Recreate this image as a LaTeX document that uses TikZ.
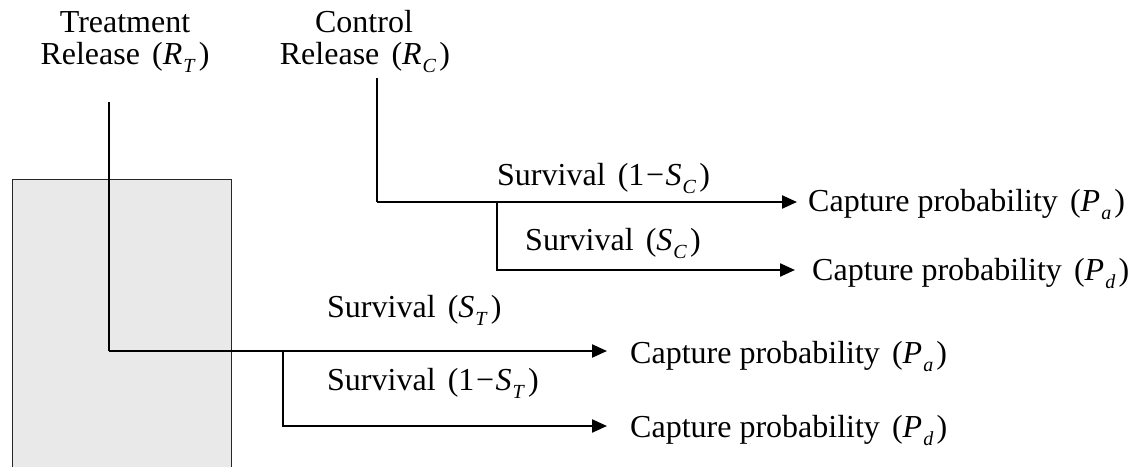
\documentclass[tikz,border=0pt]{standalone}
\usepackage{fontspec}
\setmainfont{Liberation Serif}
\usetikzlibrary{arrows.meta}
\newcommand{\subv}[2]{\textit{#1}\kern0.03em\raisebox{-0.28em}{\fontsize{20}{20}\selectfont\textit{#2}}\kern0.1em}
\newcommand{\gapsp}{\hspace{0.38em}}
\begin{document}
\begin{tikzpicture}[x=1pt,y=-1pt,
  lbl/.style={anchor=base west,inner sep=0pt,font=\fontsize{32}{38}\selectfont},
  head/.style={lbl,anchor=base},
  conn/.style={line width=2.3pt},
  arr/.style={conn,-{Triangle[length=15pt,width=13pt]}},
  pane/.style={draw=black!85,line width=1.4pt,fill=gray!17}]
\useasboundingbox (0,0) rectangle (1129,466);
% shaded panel
\node[pane,minimum width=219pt,minimum height=290pt,inner sep=0pt,anchor=north west] (panel) at (12,179) {};
% headers
\node[head] (trt) at (125,32) {Treatment};
\node[head] (relT) at (125,64) {Release\gapsp(\subv{R}{T})};
\node[head] (ctl) at (364,32) {Control};
\node[head] (relC) at (365,64) {Release\gapsp(\subv{R}{C})};
% labels
\node[lbl] (sC1) at (497,185) {Survival\gapsp(1\kern0.05em−\kern0.05em\subv{S}{C})};
\node[lbl] (sC2) at (525,250) {Survival\gapsp(\subv{S}{C})};
\node[lbl] (sT1) at (327,317) {Survival\gapsp(\subv{S}{T})};
\node[lbl] (sT2) at (327,390) {Survival\gapsp(1\kern0.05em−\kern0.05em\subv{S}{T})};
\node[lbl] (capCa) at (808,211) {Capture probability\gapsp(\subv{P}{a})};
\node[lbl] (capCd) at (812,280) {Capture probability\gapsp(\subv{P}{d})};
\node[lbl] (capTa) at (630,363) {Capture probability\gapsp(\subv{P}{a})};
\node[lbl] (capTd) at (630,437) {Capture probability\gapsp(\subv{P}{d})};
% connector points
\coordinate (tT) at (109,102);
\coordinate (cT) at (109,351);
\coordinate (bT) at (283,351);
\coordinate (bT2) at (283,426);
\coordinate (tC) at (377,78);
\coordinate (cC) at (377,202);
\coordinate (bC) at (497,202);
\coordinate (bC2) at (497,270);
% treatment tree
\draw[conn] (tT) -- (cT);
\draw[arr,shorten >=23pt] (cT) -- (capTa.west |- cT);
\draw[arr,shorten >=23pt] (bT) -- (bT2) -- (capTd.west |- bT2);
% control tree
\draw[conn] (tC) -- (cC);
\draw[arr,shorten >=11pt] (cC) -- (capCa.west |- cC);
\draw[arr,shorten >=17pt] (bC) -- (bC2) -- (capCd.west |- bC2);
\end{tikzpicture}
\end{document}
